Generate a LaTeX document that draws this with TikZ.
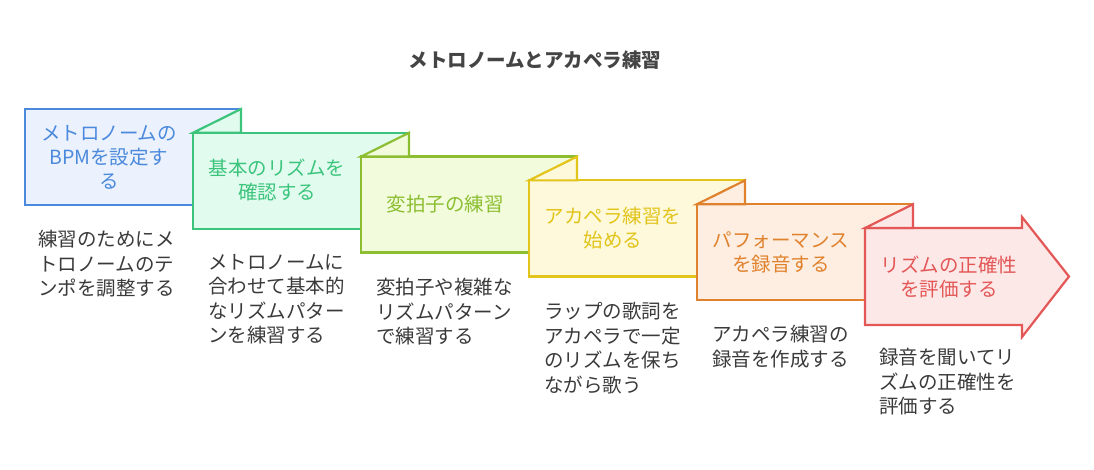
\documentclass[tikz,border=0pt]{standalone}
\usepackage{fontspec}
\setmainfont{Noto Sans CJK JP}
\definecolor{c1s}{HTML}{4A89DC}\definecolor{c1f}{HTML}{EBF1FD}
\definecolor{c2s}{HTML}{3CC47C}\definecolor{c2f}{HTML}{E1FCEF}
\definecolor{c3s}{HTML}{8DBE32}\definecolor{c3f}{HTML}{F2FCDC}
\definecolor{c4s}{HTML}{E2C41A}\definecolor{c4f}{HTML}{FEF9DA}
\definecolor{c5s}{HTML}{E0822D}\definecolor{c5f}{HTML}{FDEEE1}
\definecolor{c6s}{HTML}{E35757}\definecolor{c6f}{HTML}{FDE8E8}
\definecolor{descgray}{HTML}{3A3A3A}
\definecolor{titlegray}{HTML}{444444}
\begin{document}
\begin{tikzpicture}[x=1pt,y=-1pt,
  shp/.style={line width=2.2pt, line join=miter},
  lbl/.style={font=\fontsize{19.5}{24}\selectfont, align=center, inner sep=0pt, anchor=center},
  desc/.style={font=\fontsize{19.5}{24.5}\selectfont, align=left, inner sep=0pt, anchor=north west, text=descgray}]
\useasboundingbox (0,0) rectangle (1094,470);
\node[font=\fontsize{19.5}{24}\selectfont\bfseries, text=titlegray, inner sep=0pt] (title) at (535,60) {メトロノームとアカペラ練習};
% box 1
\filldraw[shp, draw=c1s, fill=c1f] (25,109) rectangle (241,205);
% box 2
\filldraw[shp, draw=c2s, fill=c2f] (193,132.8) rectangle (409,228.8);
\filldraw[shp, draw=c2s, fill=c2f] (193,132.8) -- (241,109) -- (241,132.8) -- cycle;
% box 3
\filldraw[shp, draw=c3s, fill=c3f] (361,156.6) rectangle (577,252.6);
\filldraw[shp, draw=c3s, fill=c3f] (361,156.6) -- (409,132.8) -- (409,156.6) -- cycle;
% box 4
\filldraw[shp, draw=c4s, fill=c4f] (529,180.4) rectangle (745,276.4);
\filldraw[shp, draw=c4s, fill=c4f] (529,180.4) -- (577,156.6) -- (577,180.4) -- cycle;
% box 5
\filldraw[shp, draw=c5s, fill=c5f] (697,204.2) rectangle (913,300.2);
\filldraw[shp, draw=c5s, fill=c5f] (697,204.2) -- (745,180.4) -- (745,204.2) -- cycle;
% box 6 (arrow)
\filldraw[shp, draw=c6s, fill=c6f] (865,228) -- (1022,228) -- (1022,217) -- (1069,276.5) -- (1022,337) -- (1022,325) -- (865,325) -- cycle;
\filldraw[shp, draw=c6s, fill=c6f] (865,228) -- (913,204.2) -- (913,228) -- cycle;
% labels
\node[lbl, text=c1s] (l1) at (109,157) {メトロノームの\\BPMを設定す\\る};
\node[lbl, text=c2s] (l2) at (277,180) {基本のリズムを\\確認する};
\node[lbl, text=c3s] (l3) at (445,204.6) {変拍子の練習};
\node[lbl, text=c4s] (l4) at (613,228.4) {アカペラ練習を\\始める};
\node[lbl, text=c5s] (l5) at (781,252.2) {パフォーマンス\\を録音する};
\node[lbl, text=c6s] (l6) at (949,276.5) {リズムの正確性\\を評価する};
% descriptions
\node[desc] (d1) at (38,230) {練習のためにメ\\トロノームのテ\\ンポを調整する};
\node[desc] (d2) at (208,254) {メトロノームに\\合わせて基本的\\なリズムパター\\ンを練習する};
\node[desc] (d3) at (376,278) {変拍子や複雑な\\リズムパターン\\で練習する};
\node[desc] (d4) at (544,302) {ラップの歌詞を\\アカペラで一定\\のリズムを保ち\\ながら歌う};
\node[desc] (d5) at (712,325) {アカペラ練習の\\録音を作成する};
\node[desc] (d6) at (879,348) {録音を聞いてリ\\ズムの正確性を\\評価する};
\end{tikzpicture}
\end{document}
